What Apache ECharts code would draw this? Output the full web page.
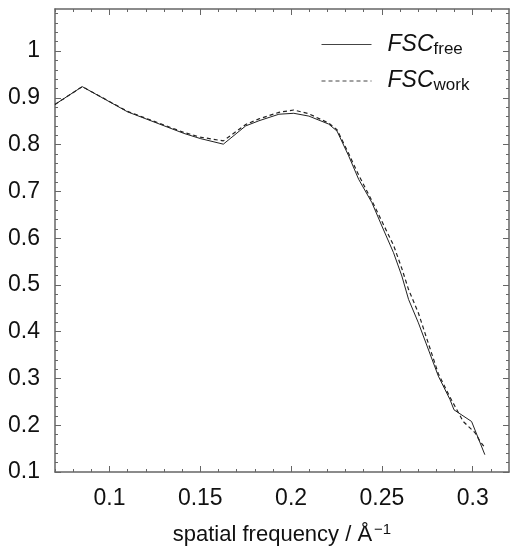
<!DOCTYPE html>
<html>
<head>
<meta charset="utf-8">
<script src="https://cdn.jsdelivr.net/npm/echarts@6/dist/echarts.min.js"></script>
<style>
html, body { margin: 0; padding: 0; background: #fff; }
#chart { width: 511px; height: 552px; }
</style>
</head>
<body>
<div id="chart"></div>
<script>
'use strict';
// FSC curves
var freqFree = [0.07, 0.085, 0.110, 0.141, 0.150, 0.1627, 0.175, 0.1823, 0.1933, 0.2015, 0.2098, 0.2207, 0.2253, 0.2317, 0.2372, 0.2445, 0.250, 0.2564, 0.261, 0.2647, 0.2701, 0.2811, 0.2875, 0.2897, 0.2994, 0.3067];
var fscFree  = [0.886, 0.924, 0.870, 0.824, 0.813, 0.801, 0.840, 0.851, 0.865, 0.867, 0.861, 0.844, 0.829, 0.776, 0.726, 0.676, 0.626, 0.569, 0.519, 0.469, 0.419, 0.305, 0.255, 0.233, 0.208, 0.137];
var freqWork = [0.07, 0.085, 0.110, 0.141, 0.150, 0.1627, 0.175, 0.1823, 0.1933, 0.2015, 0.2098, 0.2207, 0.2253, 0.2317, 0.2372, 0.2445, 0.250, 0.2564, 0.261, 0.2647, 0.2701, 0.2811, 0.2875, 0.2903, 0.2948, 0.3013, 0.304, 0.3067];
var fscWork  = [0.886, 0.924, 0.871, 0.826, 0.816, 0.808, 0.843, 0.855, 0.869, 0.874, 0.866, 0.846, 0.832, 0.781, 0.735, 0.680, 0.636, 0.585, 0.535, 0.490, 0.440, 0.310, 0.260, 0.240, 0.208, 0.184, 0.166, 0.152];
var seriesNames = ['free', 'work'];

var xMajorTicks = [0.1, 0.15, 0.2, 0.25, 0.3];
var xMinorTicks = [0.07, 0.08, 0.09, 0.1, 0.11, 0.12, 0.13, 0.14, 0.15, 0.16, 0.17, 0.18, 0.19, 0.2, 0.21, 0.22, 0.23, 0.24, 0.25, 0.26, 0.27, 0.28, 0.29, 0.3, 0.31];
var yMajorTicks = [0.1, 0.2, 0.3, 0.4, 0.5, 0.6, 0.7, 0.8, 0.9, 1];
var yMinorTicks = [0.12, 0.14, 0.16, 0.18, 0.22, 0.24, 0.26, 0.28, 0.32, 0.34, 0.36, 0.38, 0.42, 0.44, 0.46, 0.48, 0.52, 0.54, 0.56, 0.58, 0.62, 0.64, 0.66, 0.68, 0.72, 0.74, 0.76, 0.78, 0.82, 0.84, 0.86, 0.88, 0.92, 0.94, 0.96, 0.98, 1.02, 1.04, 1.06, 1.08];

var frameColor = '#666';
var fontFam = '"Liberation Sans", Arial, sans-serif';

function pairs(xs, ys) {
    var out = [];
    for (var i = 0; i < xs.length; i++) out.push([xs[i], ys[i]]);
    return out;
}
function fmt(v) { return String(+v.toFixed(2)); }

// one axis per side for the long ticks (+ frame line), one for the short ticks
function axis(pos, min, max, ticks, len, withLine, withLabels) {
    return {
        type: 'value', position: pos, min: min, max: max,
        splitLine: { show: false },
        axisLine: { show: withLine, onZero: false, lineStyle: { color: frameColor, width: 1.5 } },
        axisTick: { show: true, inside: true, length: len, customValues: ticks, lineStyle: { color: frameColor, width: 1 } },
        axisLabel: withLabels ? {
            show: true, customValues: ticks, formatter: fmt, margin: 15,
            color: '#111', fontSize: 23, fontFamily: fontFam
        } : { show: false }
    };
}

var xAxes = [
    axis('bottom', 0.07, 0.32, xMajorTicks, 6, true, true),
    axis('bottom', 0.07, 0.32, xMinorTicks, 3, false, false),
    axis('top', 0.07, 0.32, xMajorTicks, 6, true, false),
    axis('top', 0.07, 0.32, xMinorTicks, 3, false, false)
];
xAxes[0].name = 'spatial frequency / Å{sup|−1}';
xAxes[0].nameLocation = 'middle';
xAxes[0].nameGap = 50;
xAxes[0].nameTextStyle = {
    color: '#111', fontSize: 22, fontFamily: fontFam, verticalAlign: 'top',
    rich: { sup: { fontSize: 15, fontFamily: fontFam, color: '#111', verticalAlign: 'top', padding: [0, 0, 10, 2] } }
};

var yAxes = [
    axis('left', 0.1, 1.09, yMajorTicks, 6, true, true),
    axis('left', 0.1, 1.09, yMinorTicks, 3, false, false),
    axis('right', 0.1, 1.09, yMajorTicks, 6, true, false),
    axis('right', 0.1, 1.09, yMinorTicks, 3, false, false)
];

var option = {
    animation: false,
    backgroundColor: '#fff',
    grid: { left: 55, right: 2, top: 9, bottom: 80, containLabel: false },
    legend: {
        data: seriesNames,
        orient: 'vertical',
        left: 316, top: 28,
        itemWidth: 50, itemHeight: 14, itemGap: 12,
        itemStyle: { color: 'transparent', borderColor: 'transparent', borderWidth: 0 },
        lineStyle: { width: 1, color: '#444' },
        formatter: function (name) { return '{f|FSC}{s|' + name + '}'; },
        textStyle: {
            padding: [0, 0, 0, 11],
            rich: {
                f: { fontSize: 23, fontStyle: 'italic', fontFamily: fontFam, color: '#111', lineHeight: 26 },
                s: { fontSize: 17, fontFamily: fontFam, color: '#111', lineHeight: 22, verticalAlign: 'bottom', padding: [0, 0, 0, 0] }
            }
        }
    },
    xAxis: xAxes,
    yAxis: yAxes,
    series: [
        {
            name: seriesNames[0], type: 'line', symbol: 'none', showSymbol: false,
            data: pairs(freqFree, fscFree),
            lineStyle: { color: '#222', width: 1, type: 'solid' },
            itemStyle: { color: '#222' }
        },
        {
            name: seriesNames[1], type: 'line', symbol: 'none', showSymbol: false,
            data: pairs(freqWork, fscWork),
            lineStyle: { color: '#222', width: 1.2, type: [4, 3] },
            itemStyle: { color: '#222' }
        }
    ]
};

var myChart = echarts.init(document.getElementById('chart'));
myChart.setOption(option);
</script>
</body>
</html>
